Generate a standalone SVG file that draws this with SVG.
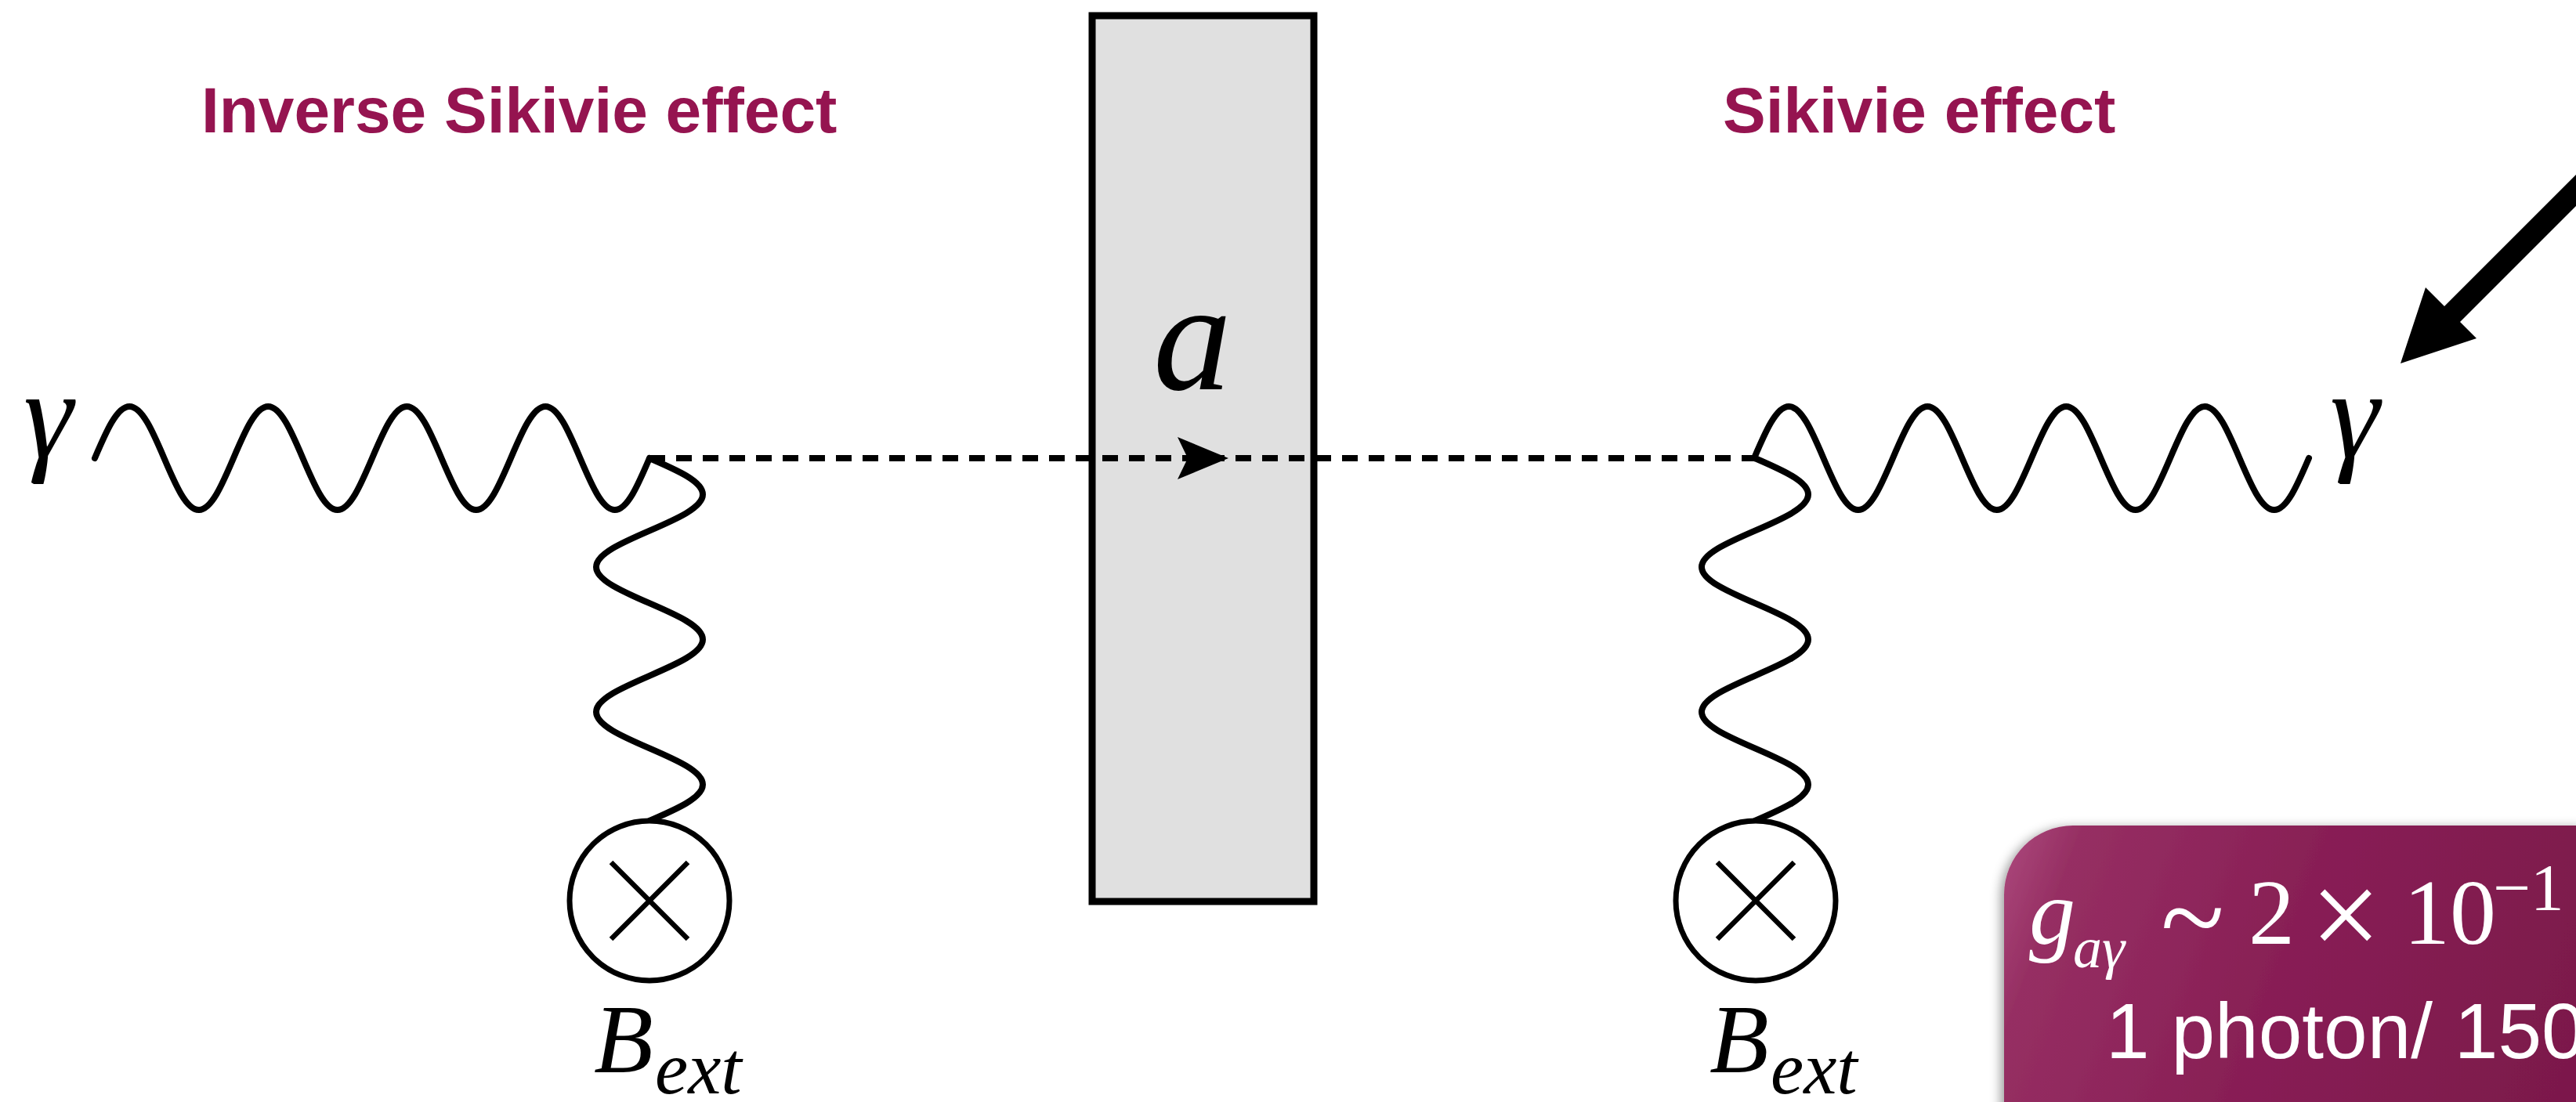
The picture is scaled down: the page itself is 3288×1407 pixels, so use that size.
<svg xmlns="http://www.w3.org/2000/svg" width="3288" height="1407" viewBox="0 0 3288 1407">
<style>
.title{font-family:"Liberation Sans",Arial,sans-serif;font-weight:bold;font-size:82px;fill:#951450}
.math{font-family:"Liberation Serif","DejaVu Serif",serif;font-style:italic;fill:#000}
.rom{font-family:"Liberation Serif","DejaVu Serif",serif;font-style:normal}
.wave{fill:none;stroke:#000;stroke-width:8;stroke-linecap:round;stroke-linejoin:round}
.dash{fill:none;stroke:#000;stroke-width:8;stroke-dasharray:20 14}
.ring{fill:#fff;stroke:#000;stroke-width:7}
.cross{stroke:#000;stroke-width:6.5;stroke-linecap:butt}
.wtxt{fill:#fff}
</style>
<defs>
<linearGradient id="boxgrad" gradientUnits="userSpaceOnUse" x1="2558" y1="1054" x2="3288" y2="1330">
<stop offset="0" stop-color="#ad4b7e"/>
<stop offset="0.12" stop-color="#962f63"/>
<stop offset="0.5" stop-color="#881f55"/>
<stop offset="1" stop-color="#7c194b"/>
</linearGradient>
<filter id="shadow" x="-5%" y="-5%" width="115%" height="115%">
<feDropShadow dx="-4" dy="3" stdDeviation="7" flood-color="#000" flood-opacity="0.4"/>
</filter>
</defs>
<rect width="3288" height="1407" fill="#fff"/>

<g id="title-inverse">
<text class="title" x="257" y="169">Inverse Sikivie effect</text>
</g>
<g id="title-sikivie">
<text class="title" x="2199" y="169">Sikivie effect</text>
</g>

<g id="axion-region">
<rect x="1394" y="20" width="283" height="1131" fill="#e0e0e0" stroke="#000" stroke-width="9"/>
<text class="math" x="1472" y="497" font-size="200">a</text>
</g>

<g id="connectors">
<path class="dash" d="M829,585 H2239"/>
<path d="M1568,585 L1503,558 L1516,585 L1503,612 Z" fill="#000"/>
<path class="wave" d="M121,585 c14.43,-33.8 28.24,-66 44.25,-66 c16.01,0 29.82,32.2 44.25,66 c14.43,33.8 28.24,66 44.25,66 c16.01,0 29.82,-32.2 44.25,-66 c14.43,-33.8 28.24,-66 44.25,-66 c16.01,0 29.82,32.2 44.25,66 c14.43,33.8 28.24,66 44.25,66 c16.01,0 29.82,-32.2 44.25,-66 c14.43,-33.8 28.24,-66 44.25,-66 c16.01,0 29.82,32.2 44.25,66 c14.43,33.8 28.24,66 44.25,66 c16.01,0 29.82,-32.2 44.25,-66 c14.43,-33.8 28.24,-66 44.25,-66 c16.01,0 29.82,32.2 44.25,66 c14.43,33.8 28.24,66 44.25,66 c16.01,0 29.82,-32.2 44.25,-66"/>
<path class="wave" d="M829,585 c34.84,15.1 68,29.54 68,46.3 c0,16.76 -33.16,31.2 -68,46.3 c-34.84,15.1 -68,29.54 -68,46.3 c0,16.76 33.16,31.2 68,46.3 c34.84,15.1 68,29.54 68,46.3 c0,16.76 -33.16,31.2 -68,46.3 c-34.84,15.1 -68,29.54 -68,46.3 c0,16.76 33.16,31.2 68,46.3 c34.84,15.1 68,29.54 68,46.3 c0,16.76 -33.16,31.2 -68,46.3"/>
<path class="wave" d="M2239,585 c14.43,-33.8 28.24,-66 44.25,-66 c16.01,0 29.82,32.2 44.25,66 c14.43,33.8 28.24,66 44.25,66 c16.01,0 29.82,-32.2 44.25,-66 c14.43,-33.8 28.24,-66 44.25,-66 c16.01,0 29.82,32.2 44.25,66 c14.43,33.8 28.24,66 44.25,66 c16.01,0 29.82,-32.2 44.25,-66 c14.43,-33.8 28.24,-66 44.25,-66 c16.01,0 29.82,32.2 44.25,66 c14.43,33.8 28.24,66 44.25,66 c16.01,0 29.82,-32.2 44.25,-66 c14.43,-33.8 28.24,-66 44.25,-66 c16.01,0 29.82,32.2 44.25,66 c14.43,33.8 28.24,66 44.25,66 c16.01,0 29.82,-32.2 44.25,-66"/>
<path class="wave" d="M2240,585 c34.84,15.1 68,29.54 68,46.3 c0,16.76 -33.16,31.2 -68,46.3 c-34.84,15.1 -68,29.54 -68,46.3 c0,16.76 33.16,31.2 68,46.3 c34.84,15.1 68,29.54 68,46.3 c0,16.76 -33.16,31.2 -68,46.3 c-34.84,15.1 -68,29.54 -68,46.3 c0,16.76 33.16,31.2 68,46.3 c34.84,15.1 68,29.54 68,46.3 c0,16.76 -33.16,31.2 -68,46.3"/>
<path d="M3288,223 L3288,263 L3140,411 L3161,432 L3064,464 L3096,367 L3120,391 Z" fill="#000"/>
</g>

<g id="photon-in">
<text class="math" x="30" y="584" font-size="160">γ</text>
</g>
<g id="photon-out">
<text class="math" x="2974" y="584" font-size="160">γ</text>
</g>

<g id="bfield-left">
<circle class="ring" cx="829" cy="1150" r="102"/>
<path class="cross" d="M780,1101 L878,1199 M878,1101 L780,1199"/>
<text class="math" x="758" y="1369" font-size="124">B<tspan x="836" y="1396" font-size="95">ext</tspan></text>
</g>
<g id="bfield-right">
<circle class="ring" cx="2241" cy="1150" r="102"/>
<path class="cross" d="M2192,1101 L2290,1199 M2290,1101 L2192,1199"/>
<text class="math" x="2182" y="1369" font-size="124">B<tspan x="2260" y="1396" font-size="95">ext</tspan></text>
</g>

<g id="info-box">
<rect x="2558" y="1054" width="820" height="480" rx="88" fill="url(#boxgrad)" filter="url(#shadow)"/>
<text class="math wtxt" x="2590" y="1205" font-size="118">g<tspan x="2646" y="1235" font-size="74">aγ</tspan></text>
<text class="rom wtxt" font-size="150" x="2758" y="1222">~</text>
<text class="rom wtxt" font-size="118" x="2870" y="1205">2</text>
<text class="rom wtxt" font-size="160" x="2949" y="1222">×</text>
<text class="rom wtxt" font-size="118" y="1205"><tspan x="3068">10</tspan><tspan x="3182" y="1162" font-size="85">−1</tspan></text>
<text class="wtxt" font-family="Liberation Sans,Arial,sans-serif" font-size="100" x="2688" y="1351">1 photon/ 150</text>
</g>
</svg>
